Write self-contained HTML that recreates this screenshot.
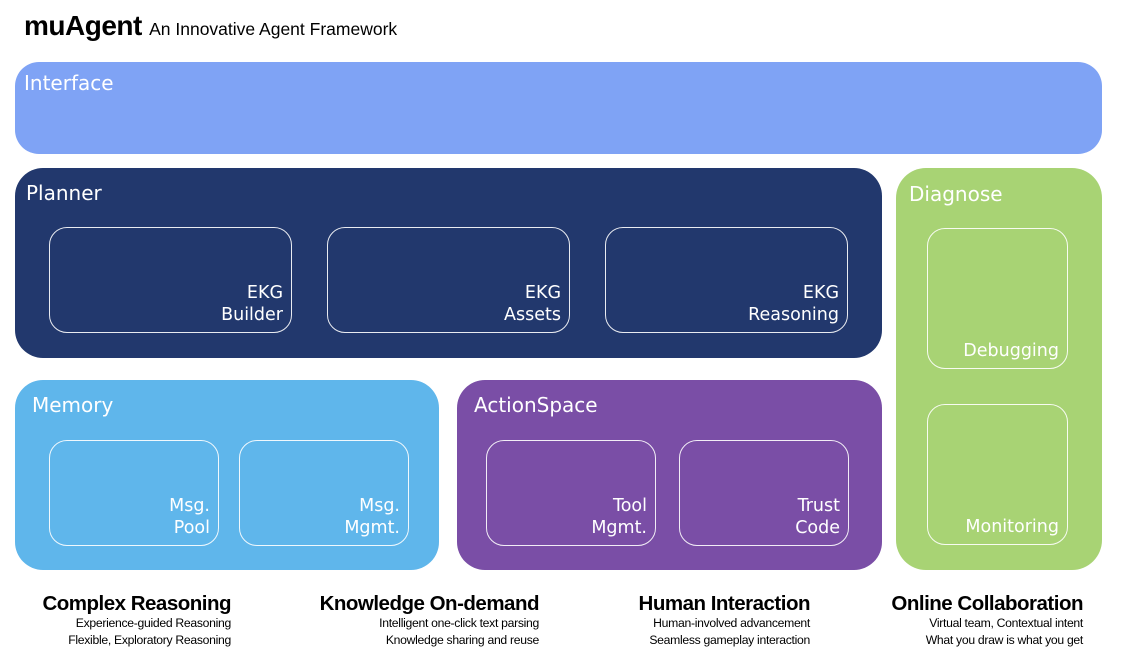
<!DOCTYPE html>
<html><head><meta charset="utf-8"><style>
*{margin:0;padding:0;box-sizing:border-box}
body{width:1125px;height:672px;background:#fff;position:relative;overflow:hidden;font-family:"DejaVu Sans","Liberation Sans",sans-serif}
.b{position:absolute}
.t{position:absolute;color:#fff;font-size:20px}
.in{position:absolute;border:1.5px solid rgba(255,255,255,0.9);border-radius:18px}
.lb{position:absolute;right:8px;bottom:6px;color:#fff;font-size:17.5px;text-align:right;line-height:22px}
.ft{position:absolute;text-align:right;font-family:"Liberation Sans",sans-serif;color:#000}
.ft h{display:block;font-weight:bold;font-size:20.5px;letter-spacing:-0.5px;line-height:22px}
.ft p{font-size:12.2px;line-height:17px;letter-spacing:-0.3px}
</style></head><body>
<div class="b" style="left:24px;top:10px;font-weight:bold;font-size:28px;letter-spacing:-0.5px;font-family:'Liberation Sans',sans-serif">muAgent <span style="font-weight:normal;font-size:17.5px;letter-spacing:0">An Innovative Agent Framework</span></div>

<div class="b" style="left:15px;top:62px;width:1087px;height:92px;background:#7fa3f5;border-radius:24px"></div>
<div class="t" style="left:24px;top:71px">Interface</div>

<div class="b" style="left:15px;top:168px;width:867px;height:190px;background:#22386d;border-radius:28px"></div>
<div class="t" style="left:26px;top:181px">Planner</div>
<div class="in" style="left:49px;top:227px;width:243px;height:106px"><div class="lb">EKG<br>Builder</div></div>
<div class="in" style="left:327px;top:227px;width:243px;height:106px"><div class="lb">EKG<br>Assets</div></div>
<div class="in" style="left:605px;top:227px;width:243px;height:106px"><div class="lb">EKG<br>Reasoning</div></div>

<div class="b" style="left:896px;top:168px;width:206px;height:402px;background:#a8d374;border-radius:30px"></div>
<div class="t" style="left:909px;top:182px">Diagnose</div>
<div class="in" style="left:927px;top:228px;width:141px;height:141px"><div class="lb">Debugging</div></div>
<div class="in" style="left:927px;top:404px;width:141px;height:141px"><div class="lb">Monitoring</div></div>

<div class="b" style="left:15px;top:380px;width:424px;height:190px;background:#5fb6eb;border-radius:28px"></div>
<div class="t" style="left:32px;top:393px">Memory</div>
<div class="in" style="left:49px;top:440px;width:170px;height:106px"><div class="lb">Msg.<br>Pool</div></div>
<div class="in" style="left:239px;top:440px;width:170px;height:106px"><div class="lb">Msg.<br>Mgmt.</div></div>

<div class="b" style="left:457px;top:380px;width:425px;height:190px;background:#7a4ea6;border-radius:28px"></div>
<div class="t" style="left:474px;top:393px">ActionSpace</div>
<div class="in" style="left:486px;top:440px;width:170px;height:106px"><div class="lb">Tool<br>Mgmt.</div></div>
<div class="in" style="left:679px;top:440px;width:170px;height:106px"><div class="lb">Trust<br>Code</div></div>

<div class="ft" style="right:894px;top:593px"><h>Complex Reasoning</h><p>Experience-guided Reasoning</p><p>Flexible, Exploratory Reasoning</p></div>
<div class="ft" style="right:586px;top:593px"><h>Knowledge On-demand</h><p>Intelligent one-click text parsing</p><p>Knowledge sharing and reuse</p></div>
<div class="ft" style="right:315px;top:593px"><h>Human Interaction</h><p>Human-involved advancement</p><p>Seamless gameplay interaction</p></div>
<div class="ft" style="right:42px;top:593px"><h>Online Collaboration</h><p>Virtual team, Contextual intent</p><p>What you draw is what you get</p></div>
</body></html>
